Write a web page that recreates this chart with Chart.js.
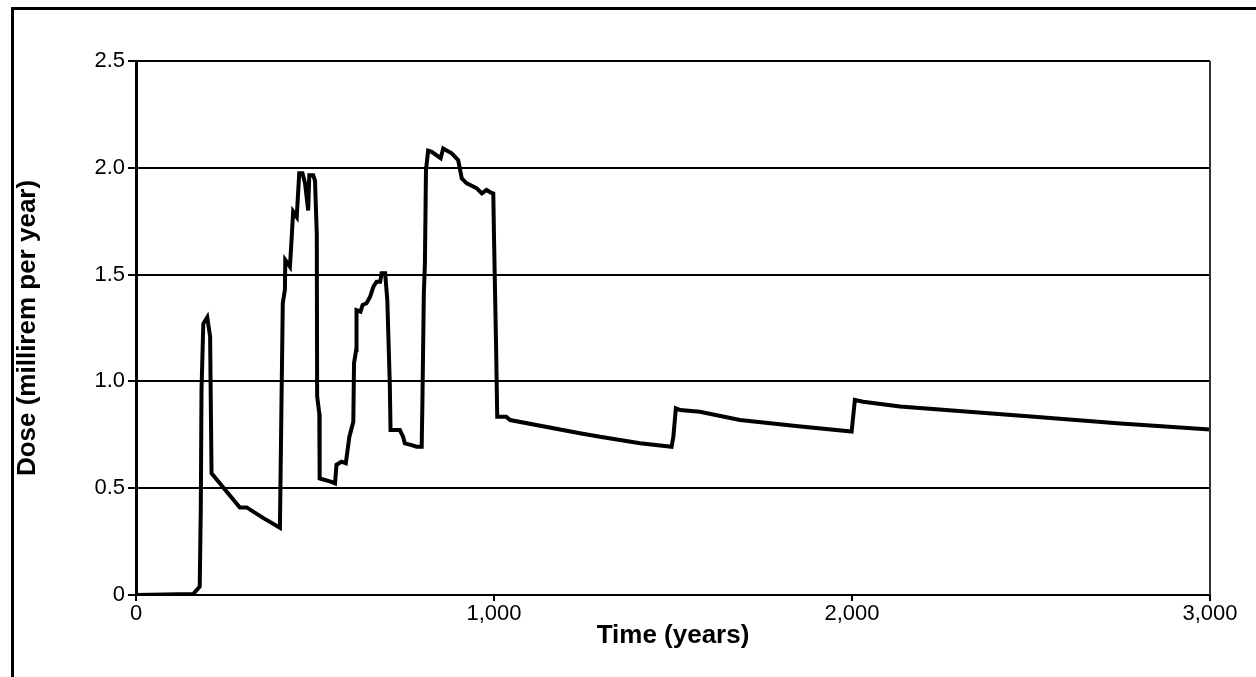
<!DOCTYPE html>
<html lang="en">
<head>
    <meta charset="UTF-8" />
    <title>Dose over time</title>
    <style>
        html, body { margin: 0; padding: 0; background: #fff; }
        #wrap { position: relative; width: 1256px; height: 677px; overflow: hidden; }
        #frame {
            position: absolute; left: 11px; top: 7px; width: 1242px; height: 680px;
            border-left: 3px solid #000; border-top: 3px solid #000; border-right: 1px solid #c8c8c8;
            pointer-events: none;
        }
        canvas { position: absolute; left: 0; top: 0; }
    </style>
</head>
<body>
<div id="wrap">
    <canvas id="doseChart" width="1256" height="677"></canvas>
    <div id="frame"></div>
</div>

<script src="https://cdn.jsdelivr.net/npm/chart.js"></script>
<script>
    // time in years, dose in millirem per year
    const years = [0, 160, 178, 181, 183, 188, 199, 207, 211, 290, 309, 356, 402, 406, 410,
        416, 417, 430, 435, 439, 449, 456, 465, 472, 481, 484, 495, 500, 505, 506, 512, 513,
        546, 556, 560, 574, 586, 596, 607, 609, 615, 616, 627, 633, 644, 649, 654, 663, 672,
        682, 686, 696, 702, 709, 711, 737, 746, 751, 770, 784, 798, 800, 804, 807, 810, 816,
        826, 851, 858, 882, 900, 910, 924, 952, 966, 979, 991, 998, 1000, 1006, 1009, 1034,
        1045, 1240, 1296, 1408, 1496, 1501, 1508, 1520, 1575, 1687, 1850, 1999, 2008, 2031,
        2134, 2500, 2750, 3000];
    const dose = [0, 0.005, 0.04, 0.41, 0.96, 1.27, 1.30, 1.21, 0.57, 0.41, 0.41, 0.36, 0.315, 0.85, 1.366,
        1.43, 1.568, 1.537, 1.678, 1.795, 1.77, 1.975, 1.975, 1.93, 1.80, 1.965, 1.965, 1.94, 1.69, 0.93, 0.85, 0.546,
        0.53, 0.523, 0.61, 0.624, 0.617, 0.741, 0.811, 1.085, 1.147, 1.334, 1.327, 1.358, 1.366, 1.381, 1.397, 1.443, 1.467,
        1.467, 1.506, 1.506, 1.381, 0.983, 0.772, 0.772, 0.741, 0.71, 0.702, 0.694, 0.694, 0.897, 1.412, 1.55, 1.99, 2.08,
        2.075, 2.045, 2.09, 2.068, 2.036, 1.95, 1.927, 1.904, 1.88, 1.896, 1.884, 1.88, 1.678, 1.147, 0.835, 0.835,
        0.819, 0.757, 0.741, 0.71, 0.694, 0.741, 0.874, 0.866, 0.858, 0.819, 0.79, 0.765, 0.913, 0.905,
        0.882, 0.836, 0.803, 0.775];

    const xTicks = [0, 1000, 2000, 3000];
    const yTicks = [0, 0.5, 1.0, 1.5, 2.0, 2.5];

    const points = years.map((t, i) => ({ x: t, y: dose[i] }));

    // thin dark border on the right side of the plot
    const plotBorder = {
        id: 'plotBorder',
        afterDraw(chart) {
            const a = chart.chartArea;
            const c = chart.ctx;
            c.save();
            c.strokeStyle = '#333';
            c.lineWidth = 2;
            c.beginPath();
            c.moveTo(a.right, a.top);
            c.lineTo(a.right, a.bottom);
            c.stroke();
            c.restore();
        }
    };

    Chart.defaults.font.family = '"Liberation Sans", Arial, sans-serif';
    Chart.defaults.color = '#000';

    const ctx = document.getElementById('doseChart').getContext('2d');
    new Chart(ctx, {
        type: 'line',
        data: {
            datasets: [{
                data: points,
                borderColor: '#000',
                borderWidth: 4,
                pointRadius: 0,
                tension: 0,
                fill: false
            }]
        },
        options: {
            responsive: false,
            animation: false,
            layout: { padding: { left: 12, top: 61, right: 46, bottom: 0 } },
            plugins: { legend: { display: false }, tooltip: { enabled: false } },
            scales: {
                x: {
                    type: 'linear',
                    min: 0,
                    max: 3000,
                    afterFit: s => { s.height = 82; },
                    afterBuildTicks: s => { s.ticks = xTicks.map(v => ({ value: v })); },
                    border: { color: '#000', width: 2 },
                    grid: { drawOnChartArea: false, color: '#000', tickColor: '#000', tickLength: 6, lineWidth: 2 },
                    ticks: {
                        font: { size: 22 },
                        padding: 0,
                        maxRotation: 0,
                        callback: v => v.toLocaleString('en-US')
                    },
                    title: {
                        display: true,
                        text: 'Time (years)',
                        font: { size: 26, weight: 'bold' },
                        padding: { top: 0, bottom: 26 }
                    }
                },
                y: {
                    min: 0,
                    max: 2.5,
                    afterFit: s => { s.width = 124; },
                    afterBuildTicks: s => { s.ticks = yTicks.map(v => ({ value: v })); },
                    border: { color: '#000', width: 3 },
                    grid: { color: '#000', tickColor: '#000', tickLength: 8, lineWidth: 2 },
                    ticks: {
                        font: { size: 22 },
                        padding: 3,
                        callback: v => v === 0 ? '0' : v.toFixed(1)
                    },
                    title: {
                        display: true,
                        text: 'Dose (millirem per year)',
                        font: { size: 26, weight: 'bold' },
                        padding: { top: 0, bottom: 0 }
                    }
                }
            }
        },
        plugins: [plotBorder]
    });
</script>
</body>
</html>
